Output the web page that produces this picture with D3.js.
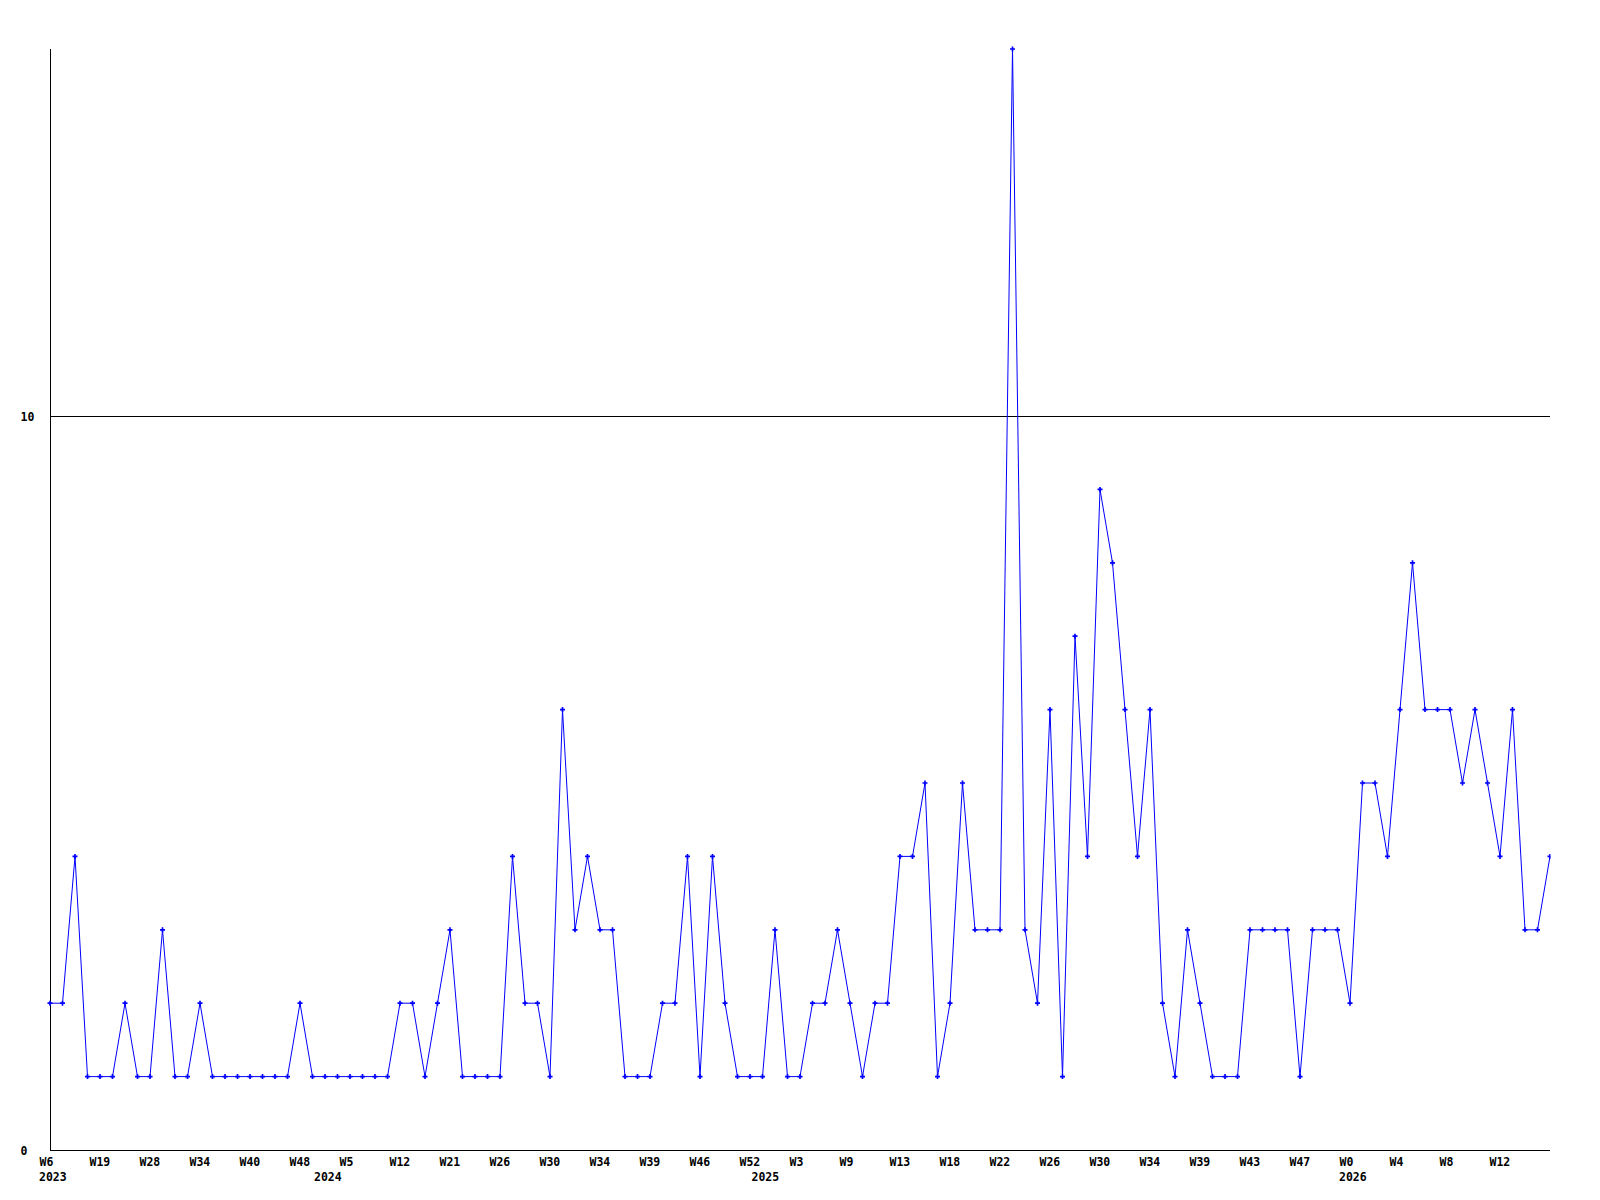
<!DOCTYPE html>
<html>
<head>
<meta charset="utf-8">
<script src="https://cdn.jsdelivr.net/npm/d3@7"></script>
<style>
  html, body { margin: 0; padding: 0; background: #fff; }
  svg text { font-family: "DejaVu Sans Mono", "Liberation Mono", monospace; font-weight: bold; font-size: 11.5px; fill: #000; }
</style>
</head>
<body>
<svg id="chart" width="1600" height="1200"></svg>
<script>
// Data
const values = [
  2,2,4,1,1,1,2,1,1,3,
  1,1,2,1,1,1,1,1,1,1,
  2,1,1,1,1,1,1,1,2,2,
  1,2,3,1,1,1,1,4,2,2,
  1,6,3,4,3,3,1,1,1,2,
  2,4,1,4,2,1,1,1,3,1,
  1,2,2,3,2,1,2,2,4,4,
  5,1,2,5,3,3,3,15,3,2,
  6,1,7,4,9,8,6,4,6,2,
  1,3,2,1,1,1,3,3,3,3,
  1,3,3,3,2,5,5,4,6,8,
  6,6,6,5,6,5,4,6,3,3,
  4
];
const weekTickIndex = [0,4,8,12,16,20,24,28,32,36,40,44,48,52,56,60,64,68,72,76,80,84,88,92,96,100,104,108,112,116];
const weekTickLabels = ["W6","W19","W28","W34","W40","W48","W5","W12","W21","W26","W30","W34","W39","W46","W52","W3","W9","W13","W18","W22","W26","W30","W34","W39","W43","W47","W0","W4","W8","W12"];
const yearIndex = [0,22,57,104];
const yearLabels = ["2023","2024","2025","2026"];
const yTicks = [0,10];
const yMax = 15;

(function () {
const svg = d3.select("#chart");
const mLeft = 50, mRight = 1550, mTop = 49, mBottom = 1150;

const x = d3.scaleLinear().domain([0, values.length - 1]).range([mLeft, mRight]);
const y = d3.scaleLinear().domain([0, yMax]).range([mBottom, mTop]);

// grid line at 10
svg.append("g").selectAll("line").data(yTicks.filter(d => d > 0)).join("line")
  .attr("x1", mLeft).attr("x2", mRight)
  .attr("y1", d => Math.round(y(d)) + 0.5).attr("y2", d => Math.round(y(d)) + 0.5)
  .attr("stroke", "#000").attr("stroke-width", 1);

// y axis
const yAxis = d3.axisLeft(y).tickValues(yTicks).tickSize(0).tickFormat(d3.format("d"));
const gy = svg.append("g").attr("transform", `translate(${mLeft + 0.5},0)`).call(yAxis);
gy.select(".domain").attr("stroke", "#000").attr("d", `M0,${mTop}V${mBottom + 0.5}`);
gy.selectAll("text").attr("x", 20 - mLeft).attr("text-anchor", "start").attr("dy", "0.4em");

// x axis
const xAxis = d3.axisBottom(x).tickValues(weekTickIndex).tickSize(0)
  .tickFormat((d, i) => weekTickLabels[i]);
const gx = svg.append("g").attr("transform", `translate(0,${mBottom + 0.5})`).call(xAxis);
gx.select(".domain").attr("stroke", "#000").attr("d", `M${mLeft},0H${mRight}`);
gx.selectAll("text").attr("text-anchor", "start").attr("x", -11).attr("y", 7).attr("dy", "0.71em");

// year labels
svg.append("g").selectAll("text").data(yearIndex).join("text")
  .attr("x", d => x(d) - 11).attr("y", mBottom + 23).attr("dy", "0.71em")
  .text((d, i) => yearLabels[i]);

// line
const line = d3.line().x((d, i) => x(i)).y(d => y(d));
svg.append("path").datum(values)
  .attr("fill", "none").attr("stroke", "#0000ff").attr("stroke-width", 1)
  .attr("d", line);

// markers
svg.append("defs").append("clipPath").attr("id", "plotclip")
  .append("rect").attr("x", 0).attr("y", 0).attr("width", mRight + 0.5).attr("height", 1200);
svg.append("g").attr("clip-path", "url(#plotclip)")
  .selectAll("path").data(values).join("path")
  .attr("transform", (d, i) => `translate(${x(i)},${y(d)})`)
  .attr("d", d3.symbol(d3.symbolCross, 14))
  .attr("fill", "#0000ff");
})();
</script>
</body>
</html>
